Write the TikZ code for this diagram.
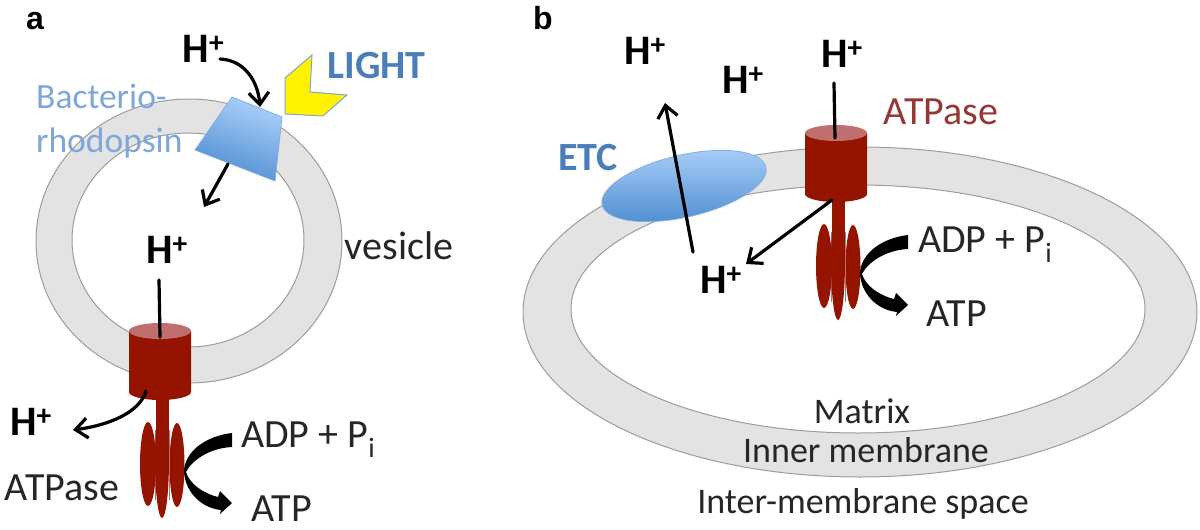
\documentclass[tikz,border=0pt]{standalone}
\usepackage{fontspec}
\setmainfont{Carlito}
\newfontfamily\panelfont{Liberation Sans}
\usetikzlibrary{arrows.meta,shapes.geometric}
\definecolor{ringfill}{HTML}{E3E3E3}
\definecolor{ringline}{HTML}{9C9C9C}
\definecolor{atpred}{HTML}{941400}
\definecolor{atptop}{HTML}{C06E6E}
\definecolor{bluetop}{HTML}{ACD0FA}
\definecolor{bluebot}{HTML}{4C8CCF}
\definecolor{labelblue}{HTML}{4A7EBB}
\definecolor{softblue}{HTML}{7FA6D8}
\definecolor{labelred}{HTML}{953735}
\newcommand{\protonmark}{H\textsuperscript{+}}
\tikzset{
  x=1pt,y=-1pt,
  ring/.style={fill=ringfill,draw=ringline,line width=1pt,even odd rule},
  lbl/.style={font=\fontsize{40}{42}\selectfont,text=black!85,inner sep=0pt},
  smalllbl/.style={font=\fontsize{36}{38}\selectfont,text=black!85,inner sep=0pt},
  softlbl/.style={font=\fontsize{35.5}{38}\selectfont,text=softblue,inner sep=0pt,anchor=base west},
  boldblue/.style={font=\fontsize{40}{42}\selectfont\bfseries,text=labelblue,inner sep=0pt},
  proton/.style={font=\fontsize{42}{44}\selectfont\bfseries,inner sep=0pt,anchor=base},
  panel/.style={font=\fontsize{32}{33}\selectfont\bfseries\panelfont,inner sep=0pt,anchor=base},
  flow/.style={line width=3.2pt,line cap=round,-{Straight Barb[length=12pt,width=20pt,line width=3.2pt]}},
  stalk/.style={line width=3.2pt,line cap=round},
  pics/atpase/.style={code={
    \begin{scope}[shift={(-160,-331)}]
      % stalk and rotor lobes
      \fill[atpred] (148,464) ellipse [x radius=8,y radius=42];
      \fill[atpred] (177,465) ellipse [x radius=7.5,y radius=42];
      \draw[atptop,line width=0.7pt] (155.5,430) -- (155.5,500) (169,430) -- (169,500);
      \fill[atpred] (155.5,398) rectangle (168.5,470);
      \fill[atpred] (162,460) ellipse [x radius=7,y radius=58];
      % cylinder body and lit top
      \fill[atpred] (129,331) -- (129,392) arc [start angle=180,end angle=360,x radius=31,y radius=-8] -- (191,331) -- cycle;
      \fill[atptop] (160,331) ellipse [x radius=31,y radius=8];
      % nucleotide turnover arrow
      \fill[black] (232,433) .. controls (207,436) and (186,450) .. (184,470)
        .. controls (184,490) and (200,508) .. (221,510)
        -- (220,514) -- (232,503) -- (220,491) -- (218,497)
        .. controls (205,494) and (190,485) .. (186,472)
        .. controls (192,460) and (210,448) .. (232,447) -- cycle;
    \end{scope}
  }}
}
\begin{document}
\begin{tikzpicture}
\useasboundingbox (0,0) rectangle (1200,530);

% membranes
\path[ring] (189,241) ellipse [x radius=153,y radius=142] (188,240) ellipse [x radius=116,y radius=107];
\path[ring] (860,312) ellipse [x radius=337,y radius=165] (858,309) ellipse [x radius=287,y radius=124];

% light-driven pump
\draw[draw=bluebot!70!white,line width=0.8pt,top color=bluetop,bottom color=bluebot,shading angle=-20]
  (232,97) -- (282,117) -- (275,181) -- (195,150) -- cycle;
\draw[draw=softblue,line width=1pt,fill=yellow]
  (312,55) -- (310,92) -- (347,95) -- (323,116) -- (285,114) -- (285,78) -- cycle;

% ATP synthases
\pic at (160,331) {atpase};
\pic at (836,133) {atpase};

% electron transport complex
\node[ellipse,draw=bluebot!70!white,line width=0.8pt,minimum width=168pt,minimum height=62pt,inner sep=0pt,
  rotate=13,top color=bluetop,bottom color=bluebot] (etc) at (684,186) {};

% panel a labels
\node[panel] (pa) at (35,29) {a};
\node[proton] (ha1) at (203.5,62) {\protonmark};
\node[boldblue] (light) at (376.5,65.5) {LIGHT};
\node[softlbl] (bac) at (36,108) {Bacterio-};
\node[softlbl] (rho) at (36,152) {rhodopsin};
\node[lbl] (ves) at (399,245.5) {vesicle};
\node[proton] (ha2) at (167,263) {\protonmark};
\node[proton] (ha3) at (31,435) {\protonmark};
\node[lbl] (atpasea) at (62,487.5) {ATPase};
\node[lbl,anchor=base west] (adpa) at (241,447) {ADP + P\textsubscript{i}};
\node[lbl] (atpa) at (282,509) {ATP};

% panel b labels
\node[panel] (pb) at (543,29) {b};
\node[proton] (hb1) at (645,64) {\protonmark};
\node[proton] (hb2) at (743,93) {\protonmark};
\node[proton] (hb3) at (842,67) {\protonmark};
\node[lbl,text=labelred] (atpaseb) at (941,111.5) {ATPase};
\node[boldblue] (etclabel) at (588,157.5) {ETC};
\node[proton] (hb4) at (721,293) {\protonmark};
\node[lbl,anchor=base west] (adpb) at (918,252) {ADP + P\textsubscript{i}};
\node[lbl] (atpb) at (957,313.5) {ATP};
\node[smalllbl] (matrix) at (862,411) {Matrix};
\node[smalllbl] (inner) at (866,450.5) {Inner membrane};
\node[smalllbl,anchor=base] (space) at (863,513) {Inter-membrane space};

% proton paths, panel a
\coordinate (pumpin) at (260,107);
\coordinate (pumpout) at (228,164);
\coordinate (lumen) at (204,207);
\coordinate (portain) at (159,280);
\coordinate (portaend) at (160,337);
\coordinate (portaout) at (146,391);
\coordinate (exita) at (73,430);
\draw[flow] (220,59) .. controls (245,60) and (258,82) .. (pumpin);
\draw[flow] (pumpout) -- (lumen);
\draw[stalk] (portain) -- (portaend);
\draw[flow] (portaout) .. controls (140,412) and (110,425) .. (exita);

% proton paths, panel b
\coordinate (etcin) at (693,252);
\coordinate (etcout) at (665,103);
\coordinate (portbin) at (834,83);
\coordinate (portbend) at (835,138);
\coordinate (portbout) at (832,200);
\coordinate (exitb) at (746,264);
\draw[flow] (etcin) -- (etcout);
\draw[stalk] (portbin) -- (portbend);
\draw[flow] (portbout) -- (exitb);
\end{tikzpicture}
\end{document}
